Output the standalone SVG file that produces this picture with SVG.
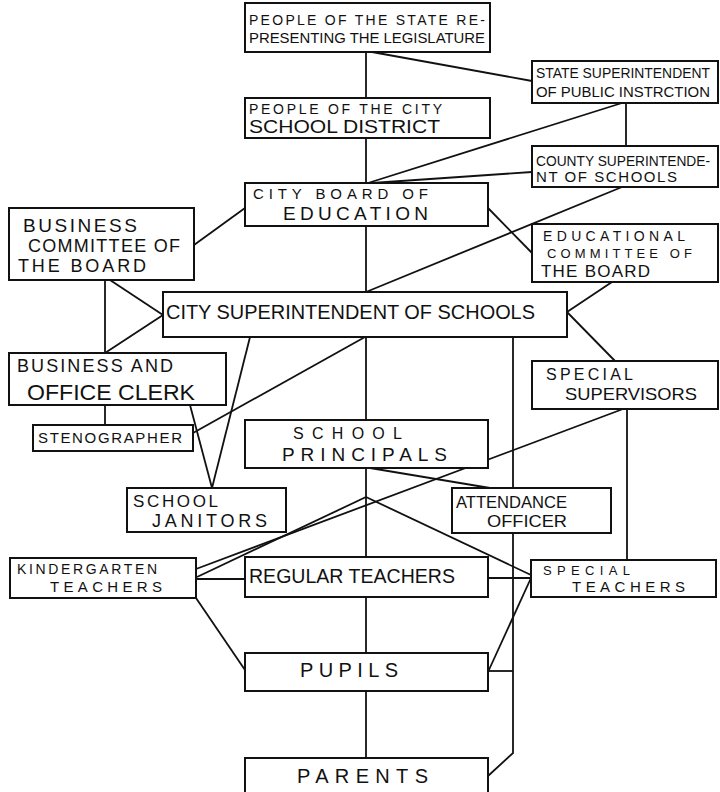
<svg xmlns="http://www.w3.org/2000/svg" width="720" height="792" viewBox="0 0 720 792">
<style>
  rect.box { fill:#fff; stroke:#111; stroke-width:2; }
  #connectors path { fill:none; stroke:#111; stroke-width:1.8; stroke-linejoin:miter; }
  text { font-family:"Liberation Sans",Arial,sans-serif; fill:#111; }
</style>
<rect width="720" height="792" fill="#fff"/>
<g id="connectors">
  <path d="M366,52 V98"/>
  <path d="M366,138 V183"/>
  <path d="M366,226 V292"/>
  <path d="M366,337 V420"/>
  <path d="M366,468 V557"/>
  <path d="M366,597 V653"/>
  <path d="M366,691 V758"/>
  <path d="M372,52 L532,81"/>
  <path d="M626,103 V146"/>
  <path d="M622,103 L368,183"/>
  <path d="M532,172 L372,183"/>
  <path d="M622,187 L366,292"/>
  <path d="M488,208 L532,253"/>
  <path d="M245,208 L194,245"/>
  <path d="M110,280 L163,315"/>
  <path d="M105,280 V353"/>
  <path d="M163,315 L105,353"/>
  <path d="M612,282 L567,312"/>
  <path d="M567,312 L615,361"/>
  <path d="M250,337 L212,488"/>
  <path d="M190,405 L212,488"/>
  <path d="M365,337 L193,433"/>
  <path d="M105,405 V425"/>
  <path d="M513,337 V753 L488,776"/>
  <path d="M488,671 H513"/>
  <path d="M627,409 V560"/>
  <path d="M623,409 L196,569"/>
  <path d="M366,497 L197,577"/>
  <path d="M366,497 L531,575"/>
  <path d="M370,468 L490,488"/>
  <path d="M196,579 H245"/>
  <path d="M488,578 H531"/>
  <path d="M196,598 L245,670"/>
  <path d="M531,578 L488,672"/>
</g>
<g id="state-people">
  <rect class="box" x="245" y="3" width="245" height="49"/>
  <text x="249" y="25" font-size="14" textLength="236" lengthAdjust="spacing">PEOPLE OF THE STATE RE-</text>
  <text x="249" y="43" font-size="14" textLength="236" lengthAdjust="spacingAndGlyphs">PRESENTING THE LEGISLATURE</text>
</g>
<g id="state-superintendent">
  <rect class="box" x="532" y="61" width="186" height="42"/>
  <text x="536" y="78" font-size="14" textLength="174" lengthAdjust="spacingAndGlyphs">STATE SUPERINTENDENT</text>
  <text x="536" y="97" font-size="14" textLength="174" lengthAdjust="spacingAndGlyphs">OF PUBLIC INSTRCTION</text>
</g>
<g id="city-people">
  <rect class="box" x="245" y="98" width="245" height="40"/>
  <text x="249" y="114" font-size="14" textLength="193" lengthAdjust="spacing">PEOPLE OF THE CITY</text>
  <text x="249" y="133" font-size="19" textLength="191" lengthAdjust="spacingAndGlyphs">SCHOOL DISTRICT</text>
</g>
<g id="county-superintendent">
  <rect class="box" x="532" y="146" width="186" height="41"/>
  <text x="536" y="166" font-size="14" textLength="174" lengthAdjust="spacingAndGlyphs">COUNTY SUPERINTENDE-</text>
  <text x="536" y="182" font-size="15" textLength="141" lengthAdjust="spacing">NT OF SCHOOLS</text>
</g>
<g id="city-board">
  <rect class="box" x="245" y="183" width="243" height="43"/>
  <text x="253" y="199" font-size="15" textLength="175" lengthAdjust="spacing">CITY BOARD OF</text>
  <text x="283" y="220" font-size="19" textLength="145" lengthAdjust="spacing">EDUCATION</text>
</g>
<g id="business-committee">
  <rect class="box" x="9" y="208" width="185" height="72"/>
  <text x="23" y="232" font-size="19" textLength="114" lengthAdjust="spacing">BUSINESS</text>
  <text x="28" y="252" font-size="18" textLength="152" lengthAdjust="spacing">COMMITTEE OF</text>
  <text x="18" y="272" font-size="18" textLength="128" lengthAdjust="spacing">THE BOARD</text>
</g>
<g id="educational-committee">
  <rect class="box" x="532" y="224" width="186" height="58"/>
  <text x="543" y="241" font-size="14" textLength="142" lengthAdjust="spacing">EDUCATIONAL</text>
  <text x="547" y="258" font-size="13" textLength="145" lengthAdjust="spacing">COMMITTEE OF</text>
  <text x="541" y="277" font-size="17" textLength="109" lengthAdjust="spacing">THE BOARD</text>
</g>
<g id="city-superintendent">
  <rect class="box" x="163" y="292" width="404" height="45"/>
  <text x="166" y="319" font-size="20" textLength="369" lengthAdjust="spacingAndGlyphs">CITY SUPERINTENDENT OF SCHOOLS</text>
</g>
<g id="business-clerk">
  <rect class="box" x="9" y="353" width="217" height="52"/>
  <text x="17" y="372" font-size="18" textLength="156" lengthAdjust="spacing">BUSINESS AND</text>
  <text x="27" y="400" font-size="22" textLength="168" lengthAdjust="spacingAndGlyphs">OFFICE CLERK</text>
</g>
<g id="special-supervisors">
  <rect class="box" x="532" y="361" width="186" height="48"/>
  <text x="546" y="380" font-size="16" textLength="87" lengthAdjust="spacing">SPECIAL</text>
  <text x="565" y="400" font-size="17" textLength="132" lengthAdjust="spacingAndGlyphs">SUPERVISORS</text>
</g>
<g id="stenographer">
  <rect class="box" x="33" y="425" width="160" height="26"/>
  <text x="38" y="443" font-size="15" textLength="144" lengthAdjust="spacing">STENOGRAPHER</text>
</g>
<g id="school-principals">
  <rect class="box" x="245" y="420" width="243" height="48"/>
  <text x="293" y="439" font-size="16" textLength="109" lengthAdjust="spacing">SCHOOL</text>
  <text x="282" y="461" font-size="19" textLength="165" lengthAdjust="spacing">PRINCIPALS</text>
</g>
<g id="school-janitors">
  <rect class="box" x="127" y="488" width="159" height="44"/>
  <text x="133" y="507" font-size="17" textLength="85" lengthAdjust="spacing">SCHOOL</text>
  <text x="152" y="527" font-size="18" textLength="115" lengthAdjust="spacing">JANITORS</text>
</g>
<g id="attendance-officer">
  <rect class="box" x="452" y="488" width="159" height="45"/>
  <text x="456" y="508" font-size="16" textLength="111" lengthAdjust="spacingAndGlyphs">ATTENDANCE</text>
  <text x="487" y="527" font-size="16" textLength="80" lengthAdjust="spacingAndGlyphs">OFFICER</text>
</g>
<g id="kindergarten-teachers">
  <rect class="box" x="10" y="558" width="186" height="40"/>
  <text x="17" y="574" font-size="14" textLength="140" lengthAdjust="spacing">KINDERGARTEN</text>
  <text x="50" y="592" font-size="15" textLength="112" lengthAdjust="spacing">TEACHERS</text>
</g>
<g id="regular-teachers">
  <rect class="box" x="245" y="557" width="243" height="40"/>
  <text x="249" y="583" font-size="20" textLength="206" lengthAdjust="spacingAndGlyphs">REGULAR TEACHERS</text>
</g>
<g id="special-teachers">
  <rect class="box" x="531" y="560" width="185" height="37"/>
  <text x="543" y="575" font-size="13" textLength="87" lengthAdjust="spacing">SPECIAL</text>
  <text x="572" y="592" font-size="15" textLength="113" lengthAdjust="spacing">TEACHERS</text>
</g>
<g id="pupils">
  <rect class="box" x="245" y="653" width="243" height="38"/>
  <text x="300" y="677" font-size="20" textLength="98" lengthAdjust="spacing">PUPILS</text>
</g>
<g id="parents">
  <rect class="box" x="245" y="758" width="243" height="50"/>
  <text x="297" y="783" font-size="20" textLength="131" lengthAdjust="spacing">PARENTS</text>
</g>
</svg>
